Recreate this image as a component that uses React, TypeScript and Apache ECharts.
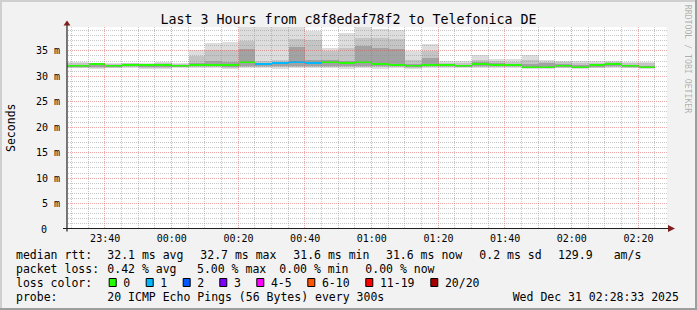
import React, { useEffect, useRef } from "react";
import * as echarts from "echarts";

// ---------- data ----------
const slotStarts = [
  "23:25", "23:30", "23:35", "23:40", "23:45", "23:50", "23:55", "00:00", "00:05", "00:10", "00:15", "00:20",
  "00:25", "00:30", "00:35", "00:40", "00:45", "00:50", "00:55", "01:00", "01:05", "01:10", "01:15", "01:20",
  "01:25", "01:30", "01:35", "01:40", "01:45", "01:50", "01:55", "02:00", "02:05", "02:10", "02:15", "02:20",
];
const medianRtt = [
  31.9, 31.9, 32.3, 31.9, 32.2, 32.2, 32.2, 31.9, 32.2, 32.2, 32.2, 32.7,
  32.3, 32.5, 32.7, 32.6, 32.8, 32.5, 32.8, 32.3, 32.2, 31.9, 32.2, 32.1,
  32.0, 32.3, 32.2, 32.2, 31.8, 31.8, 31.9, 31.8, 32.1, 32.4, 31.9, 31.7,
];
const lossCount = [
  0, 0, 0, 0, 0, 0, 0, 0, 0, 0, 0, 0,
  1, 1, 1, 1, 0, 0, 0, 0, 0, 0, 0, 0,
  0, 0, 0, 0, 0, 0, 0, 0, 0, 0, 0, 0,
];
const smokeLow = [
  31.5, 31.5, 31.4, 31.5, 31.5, 31.4, 31.4, 31.5, 31.5, 31.5, 31.4, 31.6,
  31.5, 31.4, 31.6, 31.5, 31.6, 31.4, 31.5, 31.4, 31.5, 31.4, 31.5, 31.5,
  31.5, 31.5, 31.5, 31.5, 31.4, 31.4, 31.5, 31.4, 31.5, 31.5, 31.5, 31.4,
];
const smokeHigh = [
  32.7, 32.7, 32.6, 32.6, 32.6, 32.6, 32.7, 32.5, 35.1, 36.5, 36.7, 39.8,
  39.8, 39.8, 39.8, 38.9, 35.4, 38.5, 39.8, 39.2, 39.0, 34.8, 36.2, 33.0,
  33.0, 34.0, 33.4, 33.3, 34.1, 33.1, 33.0, 33.0, 33.0, 33.0, 32.8, 32.8,
];
const midLow = [
  31.6, 31.6, 31.6, 31.6, 31.7, 31.6, 31.6, 31.7, 31.7, 31.7, 31.6, 31.8,
  31.7, 31.7, 31.8, 31.7, 31.8, 31.7, 31.8, 31.7, 31.7, 31.6, 31.7, 31.7,
  31.7, 31.7, 31.7, 31.7, 31.6, 31.6, 31.6, 31.6, 31.6, 31.7, 31.6, 31.5,
];
const midHigh = [
  32.5, 32.5, 32.5, 32.4, 32.5, 32.4, 32.5, 32.3, 33.9, 35.1, 35.0, 36.9,
  33.0, 33.2, 37.3, 37.0, 34.8, 35.5, 37.4, 37.4, 37.3, 33.2, 34.8, 32.6,
  32.5, 33.1, 33.0, 32.8, 33.1, 32.8, 32.7, 32.6, 32.6, 32.7, 32.5, 32.5,
];
const innerLow = [
  31.7, 31.7, 31.8, 31.8, 31.9, 31.8, 31.8, 31.8, 31.9, 31.9, 31.8, 32.0,
  31.9, 31.9, 32.0, 31.9, 32.0, 31.9, 32.0, 31.9, 31.9, 31.8, 31.9, 31.9,
  31.8, 31.9, 31.9, 31.9, 31.8, 31.8, 31.8, 31.7, 31.8, 31.9, 31.8, 31.6,
];
const innerHigh = [
  32.2, 32.2, 32.2, 32.2, 32.3, 32.1, 32.0, 32.1, 32.6, 33.0, 32.8, 35.2,
  32.6, 32.8, 35.6, 33.2, 33.1, 33.0, 35.8, 35.4, 35.3, 32.4, 33.5, 32.3,
  32.2, 32.7, 32.5, 32.4, 32.3, 32.5, 32.4, 32.2, 32.3, 32.5, 32.2, 32.0,
];

const xStart = "23:28:33";
const xEnd = "02:28:33";
const xTickLabels = ["23:40", "00:00", "00:20", "00:40", "01:00", "01:20", "01:40", "02:00", "02:20"];
const yTickValues = [0, 5, 10, 15, 20, 25, 30, 35];
const yTickLabels = ["0", "5 m", "10 m", "15 m", "20 m", "25 m", "30 m", "35 m"];
const yMax = 39.6;

const lossLabels = ["0", "1", "2", "3", "4-5", "6-10", "11-19", "20/20"];
const lossColors = ["#26ff00", "#00b8ff", "#0059ff", "#7e00ff", "#ff00ff", "#ff5500", "#ff0000", "#a10000"];
const lossUpper = [0, 1, 2, 3, 5, 10, 19, 20];

const titleText = "Last 3 Hours from c8f8edaf78f2 to Telefonica DE";
const rttRow = ["median rtt:", "32.1 ms avg", "32.7 ms max", "31.6 ms min", "31.6 ms now", "0.2 ms sd", "129.9", "am/s"];
const lossRow = ["packet loss:", "0.42 % avg", "5.00 % max", "0.00 % min", "0.00 % now"];
const probeRow = ["probe:", "20 ICMP Echo Pings (56 Bytes) every 300s", "Wed Dec 31 02:28:33 2025"];

// ---------- layout ----------
const W = 697;
const H = 310;
const FONT = "'DejaVu Sans Mono', monospace";
const G = { left: 67, right: 30, top: 27, bottom: 81.5 };
const rttX = [16, 107.3, 200.3, 293.3, 386, 479.3, 558, 613.7];
const lossX = [16, 107.3, 197, 279.3, 365.3];
const probeX = [16, 107.3, 512.7];
const boxX = [108.7, 145.7, 182.7, 219.3, 256.3, 307.3, 365.3, 430.3];
const rowY = [254.5, 268.5, 282.5, 296.5];

const toMin = (s: string) => {
  const [h, m, sec] = s.split(":").map(Number);
  let t = h * 60 + m + (sec || 0) / 60;
  if (h < 12) t += 24 * 60;
  return t - 23 * 60;
};
const fmtMin = (v: number) => {
  const total = Math.round(v + 23 * 60);
  const h = Math.floor(total / 60) % 24;
  const m = total % 60;
  return `${String(h).padStart(2, "0")}:${String(m).padStart(2, "0")}`;
};
const lossColor = (n: number) => {
  for (let i = 0; i < lossUpper.length; i++) if (n <= lossUpper[i]) return lossColors[i];
  return lossColors[lossColors.length - 1];
};

export default function App() {
  const ref = useRef<HTMLDivElement>(null);
  useEffect(() => {
    if (!ref.current) return;
    const chart = echarts.init(ref.current, null, { renderer: "svg", width: W, height: H });

    const xMin = toMin(xStart);
    const xMax = toMin(xEnd);
    const slotLen = 5;

    const smokeData = slotStarts.map((s, i) => [
      toMin(s), smokeLow[i], midLow[i], innerLow[i], innerHigh[i], midHigh[i], smokeHigh[i], medianRtt[i], lossCount[i],
    ]);

    const vLines: number[][] = [];
    for (let m = 30; m <= 205; m += 5) vLines.push([m, m % 20 === 0 ? 1 : 0]);
    const hLines: number[][] = [];
    for (let v = 1; v < yMax; v += 1) hLines.push([xMin, v, v % 5 === 0 ? 1 : 0]);

    const minorColor = "rgba(143,143,143,0.5)";
    const majorColor = "rgba(222,79,79,0.5)";

    const bands: [number, number, string][] = [
      [1, 6, "#dddddd"],
      [2, 5, "#c4c4c4"],
      [3, 4, "#a2a2a2"],
    ];

    const option: any = {
      animation: false,
      color: ["#000000"],
      backgroundColor: "#f2f2f2",
      grid: { ...G, show: true, backgroundColor: "#ffffff", borderWidth: 0, containLabel: false },
      xAxis: {
        type: "value",
        min: xMin,
        max: xMax,
        axisLine: { show: false },
        axisTick: { show: false },
        splitLine: { show: false },
        axisLabel: {
          customValues: xTickLabels.map(toMin),
          formatter: (v: number) => fmtMin(v),
          margin: 5,
          fontFamily: FONT,
          fontSize: 10,
          color: "#000",
        },
      },
      yAxis: {
        type: "value",
        show: false,
        min: 0,
        max: yMax,
      },
      series: [
        {
          type: "custom",
          z: 2,
          silent: true,
          data: smokeData,
          renderItem: (params: any, api: any) => {
            const cs = params.coordSys;
            const box = { x: cs.x, y: cs.y, width: cs.width, height: cs.height };
            const x0 = api.value(0);
            const x1 = x0 + slotLen;
            const children: any[] = [];
            bands.forEach(([lo, hi, c]) => {
              const p0 = api.coord([x0, api.value(hi)]);
              const p1 = api.coord([x1, api.value(lo)]);
              const xa = Math.round(p0[0]);
              const xb = Math.round(p1[0]);
              const ya = Math.round(p0[1]);
              const yb = Math.round(p1[1]);
              const shape = echarts.graphic.clipRectByRect({ x: xa, y: ya, width: xb - xa, height: yb - ya }, box);
              if (shape) children.push({ type: "rect", shape, style: { fill: c } });
            });
            const m0 = api.coord([x0, api.value(7)]);
            const m1 = api.coord([x1, api.value(7)]);
            const xa = Math.round(m0[0]);
            const xb = Math.round(m1[0]);
            const ym = Math.round(m0[1]) - 1;
            const ms = echarts.graphic.clipRectByRect({ x: xa, y: ym, width: xb - xa, height: 2 }, box);
            if (ms) children.push({ type: "rect", shape: ms, style: { fill: lossColor(api.value(8)) } });
            return { type: "group", children };
          },
        },
        {
          type: "custom",
          z: 5,
          silent: true,
          data: vLines,
          renderItem: (params: any, api: any) => {
            const p = api.coord([api.value(0), 0]);
            const q = api.coord([api.value(0), yMax]);
            const x = Math.round(p[0]) - 0.5;
            return {
              type: "line",
              shape: { x1: x, y1: q[1], x2: x, y2: p[1] },
              style: { stroke: api.value(1) ? majorColor : minorColor, lineWidth: 1, lineDash: [1, 1] },
            };
          },
        },
        {
          type: "custom",
          z: 5,
          silent: true,
          data: hLines,
          renderItem: (params: any, api: any) => {
            const p = api.coord([xMin, api.value(1)]);
            const q = api.coord([xMax, api.value(1)]);
            const y = Math.round(p[1]) + 0.5;
            return {
              type: "line",
              shape: { x1: p[0] + 1, y1: y, x2: q[0], y2: y },
              style: { stroke: api.value(2) ? majorColor : minorColor, lineWidth: 1, lineDash: [1, 1] },
            };
          },
        },
        {
          type: "custom",
          z: 6,
          silent: true,
          clip: false,
          data: yTickValues.map((v, i) => [xMin, v, i]),
          renderItem: (params: any, api: any) => {
            const p = api.coord([xMin, api.value(1)]);
            const i = api.value(2);
            const pad = yTickValues[i] === 0 ? 13 : 0;
            return {
              type: "text",
              x: p[0] - 7 - pad,
              y: p[1] + 0.5,
              style: {
                text: yTickLabels[i],
                font: `10px ${FONT}`,
                fill: "#000",
                align: "right",
                verticalAlign: "middle",
              },
            };
          },
        },
      ],
      graphic: [] as any[],
    };

    const gfx: any[] = [];
    // borders
    gfx.push({ type: "rect", shape: { x: 0, y: 0, width: W, height: 2 }, style: { fill: "#cfcfcf" }, z: 50 });
    gfx.push({ type: "rect", shape: { x: 0, y: 0, width: 2, height: H }, style: { fill: "#cfcfcf" }, z: 50 });
    gfx.push({ type: "rect", shape: { x: 0, y: H - 2, width: W, height: 2 }, style: { fill: "#9e9e9e" }, z: 50 });
    gfx.push({ type: "rect", shape: { x: W - 2, y: 0, width: 2, height: H }, style: { fill: "#9e9e9e" }, z: 50 });
    // title
    gfx.push({
      type: "text", x: W / 2, y: 19.5, z: 50,
      style: { text: titleText, font: `13.3px ${FONT}`, fill: "#000", align: "center", verticalAlign: "middle" },
    });
    // y axis name
    gfx.push({
      type: "text", x: 11, y: (G.top + H - G.bottom) / 2, rotation: Math.PI / 2, z: 50,
      style: { text: "Seconds", font: `11.5px ${FONT}`, fill: "#000", align: "center", verticalAlign: "middle" },
    });
    // watermark
    gfx.push({
      type: "text", x: 688, y: 59, rotation: -Math.PI / 2, z: 50,
      style: { text: "RRDTOOL / TOBI OETIKER", font: `8.2px ${FONT}`, fill: "rgba(0,0,0,0.3)", align: "center", verticalAlign: "middle" },
    });
    // axes
    const axisY = H - G.bottom;
    gfx.push({ type: "line", z: 60, shape: { x1: 63, y1: axisY, x2: 668, y2: axisY }, style: { stroke: "#1f1f1f", lineWidth: 1.2 } });
    gfx.push({ type: "line", z: 60, shape: { x1: G.left, y1: axisY + 3, x2: G.left, y2: 25 }, style: { stroke: "#1f1f1f", lineWidth: 1.2 } });
    gfx.push({ type: "polygon", z: 61, shape: { points: [[668, axisY - 3.5], [675, axisY], [668, axisY + 3.5]] }, style: { fill: "#801f1f" } });
    gfx.push({ type: "polygon", z: 61, shape: { points: [[G.left - 3.5, 25.5], [G.left, 20.5], [G.left + 3.5, 25.5]] }, style: { fill: "#801f1f" } });
    // legend rows
    const txt = (text: string, x: number, y: number) => ({
      type: "text", x, y, z: 50,
      style: { text, font: `11.5px ${FONT}`, fill: "#000", align: "left", verticalAlign: "middle" },
    });
    rttRow.forEach((t, i) => gfx.push(txt(t, rttX[i], rowY[0])));
    lossRow.forEach((t, i) => gfx.push(txt(t, lossX[i], rowY[1])));
    gfx.push(txt("loss color:", 16, rowY[2]));
    lossLabels.forEach((t, i) => {
      gfx.push({
        type: "rect", z: 50,
        shape: { x: boxX[i] + 0.5, y: rowY[2] - 4, width: 7, height: 8 },
        style: { fill: lossColors[i], stroke: "#000", lineWidth: 1 },
      });
      gfx.push(txt(t, boxX[i] + 14.6, rowY[2]));
    });
    probeRow.forEach((t, i) => gfx.push(txt(t, probeX[i], rowY[3])));
    option.graphic = gfx;

    chart.setOption(option);
    return () => chart.dispose();
  }, []);
  return <div ref={ref} style={{ position: "fixed", left: 0, top: 0, width: W, height: H }} />;
}
